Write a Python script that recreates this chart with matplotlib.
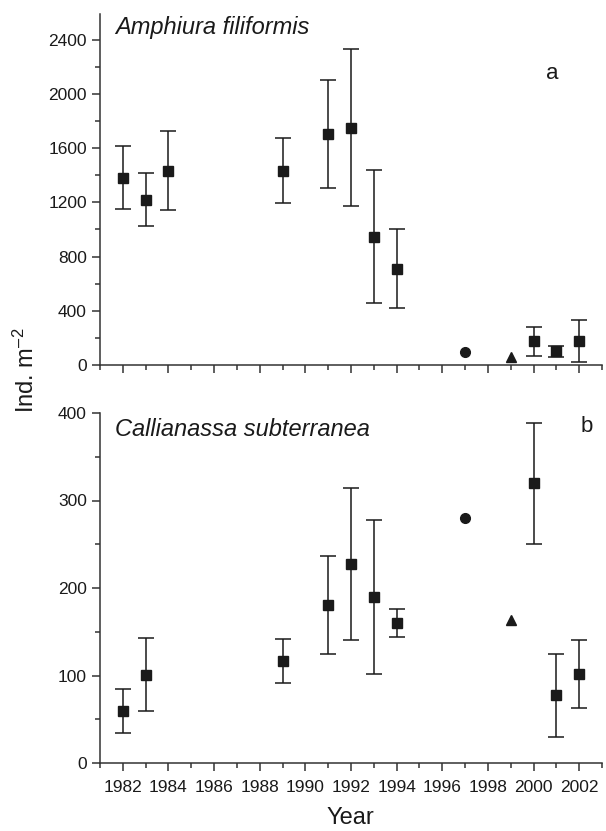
import matplotlib
matplotlib.use("Agg")
import matplotlib.pyplot as plt
from matplotlib.ticker import MultipleLocator

plt.rcParams['font.family'] = ['Liberation Sans', 'DejaVu Sans']
plt.rcParams['mathtext.fontset'] = 'custom'
plt.rcParams['mathtext.rm'] = 'Liberation Sans'
plt.rcParams['mathtext.it'] = 'Liberation Sans:italic'

# Panel a: Amphiura filiformis
a_years = [1982, 1983, 1984, 1989, 1991, 1992, 1993, 1994, 2000, 2001, 2002]
a_mean = [1380, 1220, 1432, 1432, 1702, 1750, 945, 710, 174, 103, 179]
a_low = [1150, 1028, 1146, 1195, 1306, 1170, 455, 418, 66, 58, 20]
a_high = [1618, 1416, 1724, 1677, 2103, 2329, 1441, 1001, 280, 139, 331]
a_circle = (1997, 98)
a_triangle = (1999, 58)

# Panel b: Callianassa subterranea
b_years = [1982, 1983, 1989, 1991, 1992, 1993, 1994, 2000, 2001, 2002]
b_mean = [59, 101, 117, 181, 228, 190, 160, 320, 78, 102]
b_low = [34, 60, 92, 125, 141, 102, 144, 250, 30, 63]
b_high = [85, 143, 142, 237, 314, 278, 176, 389, 125, 141]
b_circle = (1997, 280)
b_triangle = (1999, 163)

year_ticks = list(range(1982, 2003, 2))
col = '#1a1a1a'

W, H = 606, 831
fig = plt.figure(figsize=(W / 100, H / 100), dpi=100)

def ax_rect(l, t, r, b):
    return [l / W, 1 - b / H, (r - l) / W, (b - t) / H]

axA = fig.add_axes(ax_rect(100, 14, 602, 365))
axB = fig.add_axes(ax_rect(100, 413, 602, 763))

def draw(ax, years, mean, low, high, circ, tri):
    yerr = [[m - l for m, l in zip(mean, low)], [h - m for m, h in zip(mean, high)]]
    ax.errorbar(years, mean, yerr=yerr, fmt='s', color=col, ms=7, capsize=5.5,
                elinewidth=1.1, capthick=1.1, clip_on=False)
    ax.plot([circ[0]], [circ[1]], 'o', color=col, ms=7)
    ax.plot([tri[0]], [tri[1]], '^', color=col, ms=7.5)
    ax.spines['top'].set_visible(False)
    ax.spines['right'].set_visible(False)
    for s in ('left', 'bottom'):
        ax.spines[s].set_linewidth(1.1)
        ax.spines[s].set_color('#333333')
    ax.set_xlim(1981, 2003)
    ax.set_xticks(year_ticks)
    ax.xaxis.set_minor_locator(MultipleLocator(1))
    ax.tick_params(which='both', direction='out', color='#333333', width=1.1,
                   labelsize=12.5, labelcolor=col)
    ax.tick_params(which='major', length=6)
    ax.tick_params(which='minor', length=3.5)
    ax.tick_params(axis='x', pad=6)

draw(axA, a_years, a_mean, a_low, a_high, a_circle, a_triangle)
axA.set_ylim(0, 2590)
axA.set_yticks([0, 400, 800, 1200, 1600, 2000, 2400])
axA.yaxis.set_minor_locator(MultipleLocator(200))
axA.tick_params(axis='x', labelbottom=False)
axA.text(0.03, 0.995, 'Amphiura filiformis', transform=axA.transAxes, fontsize=17,
         style='italic', va='top', ha='left', color=col)
axA.text(0.9, 0.83, 'a', transform=axA.transAxes, fontsize=16, ha='center', va='center', color=col)

draw(axB, b_years, b_mean, b_low, b_high, b_circle, b_triangle)
axB.set_ylim(0, 400)
axB.set_yticks([0, 100, 200, 300, 400])
axB.yaxis.set_minor_locator(MultipleLocator(50))
axB.text(0.03, 0.985, 'Callianassa subterranea', transform=axB.transAxes, fontsize=17,
         style='italic', va='top', ha='left', color=col)
axB.text(0.97, 0.96, 'b', transform=axB.transAxes, fontsize=16, ha='center', va='center', color=col)

fig.text(350 / W, 1 - 818 / H, 'Year', fontsize=17, ha='center', va='center', color=col)
fig.text(26 / W, 1 - 370 / H, 'Ind. m$^{\u20132}$', rotation=90, fontsize=17,
         ha='center', va='center', color=col)

fig.savefig('out.png', dpi=100)
